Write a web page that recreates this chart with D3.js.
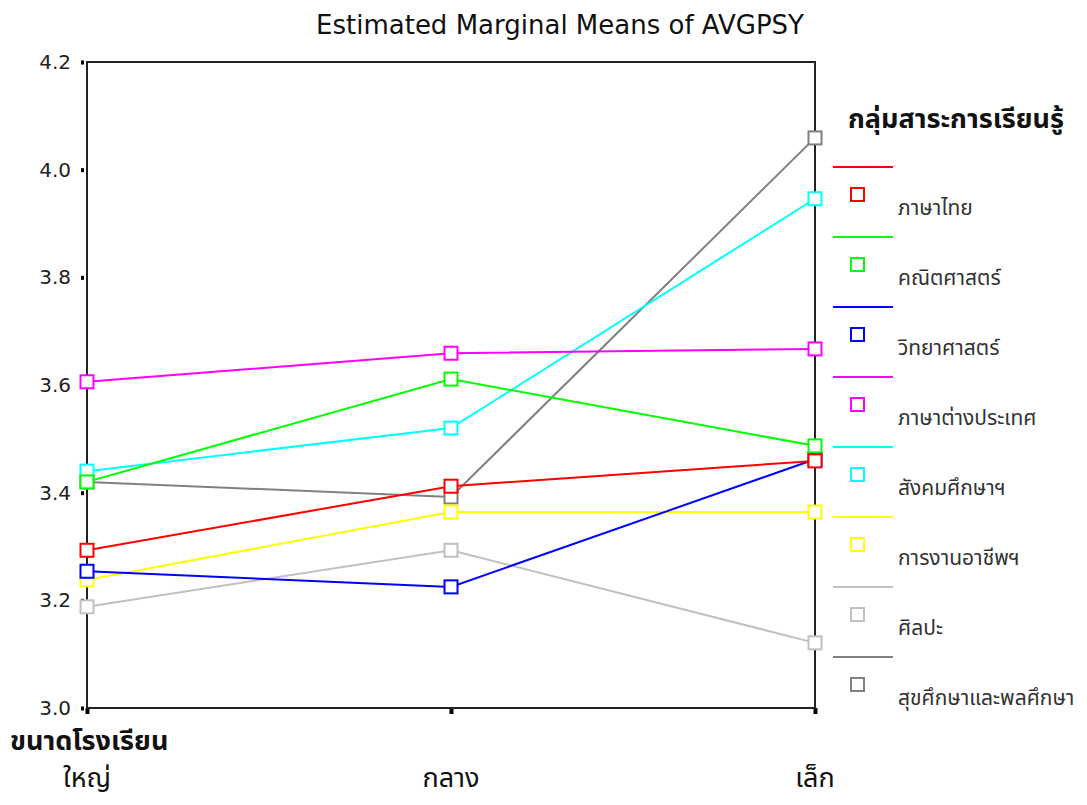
<!DOCTYPE html>
<html>
<head>
<meta charset="utf-8">
<script src="https://cdn.jsdelivr.net/npm/d3@7"></script>
<style>
  body { margin: 0; background: #fff; }
  svg { display: block; }
</style>
</head>
<body>
<script>
var w = 1087;
var h = 805;

// data
var sizes = ["ใหญ่", "กลาง", "เล็ก"];
var groups = ["ภาษาไทย", "คณิตศาสตร์", "วิทยาศาสตร์", "ภาษาต่างประเทศ",
              "สังคมศึกษาฯ", "การงานอาชีพฯ", "ศิลปะ", "สุขศึกษาและพลศึกษา"];
var thai    = [3.293, 3.412, 3.459];
var math    = [3.420, 3.611, 3.487];
var science = [3.254, 3.225, 3.462];
var foreign = [3.606, 3.659, 3.667];
var social  = [3.440, 3.520, 3.946];
var career  = [3.238, 3.364, 3.364];
var art     = [3.188, 3.293, 3.121];
var health  = [3.420, 3.392, 4.059];
var yTicks = [3.0, 3.2, 3.4, 3.6, 3.8, 4.0, 4.2];

var series = [thai, math, science, foreign, social, career, art, health];
var colors = ["#ff0000", "#00ff00", "#0000ff", "#ff00ff", "#00ffff", "#ffff00", "#c0c0c0", "#808080"];

var thaiFont = "'Noto Sans Thai', 'Noto Sans', 'DejaVu Sans', sans-serif";

var pLeft = 87, pRight = 815, pTop = 62, pBottom = 708;

var svg = d3.select("body").append("svg")
  .attr("width", w)
  .attr("height", h);

var x = d3.scalePoint().domain(sizes).range([pLeft, pRight]);
var y = d3.scaleLinear().domain([3.0, 4.2]).range([pBottom, pTop]);

// title
svg.append("text")
  .attr("x", 560)
  .attr("y", 34)
  .attr("text-anchor", "middle")
  .attr("font-family", "'DejaVu Sans', sans-serif")
  .attr("font-size", 26)
  .attr("fill", "#111")
  .text("Estimated Marginal Means of AVGPSY");

// y axis
var yAxis = svg.append("g")
  .attr("transform", "translate(" + (pLeft - 3) + ",0)")
  .call(d3.axisLeft(y).tickValues(yTicks).tickFormat(d3.format(".1f")).tickSize(3).tickPadding(10));
yAxis.select(".domain").remove();
yAxis.selectAll(".tick line").attr("stroke", "#000").attr("stroke-width", 4);
yAxis.selectAll(".tick text")
  .attr("font-family", "'DejaVu Sans', sans-serif")
  .attr("font-size", 20)
  .attr("fill", "#222");

// x axis ticks
var xAxis = svg.append("g")
  .attr("transform", "translate(0," + pBottom + ")")
  .call(d3.axisBottom(x).tickSize(6).tickFormat(""));
xAxis.select(".domain").remove();
xAxis.selectAll(".tick line").attr("stroke", "#000").attr("stroke-width", 4);

// frame
svg.append("rect")
  .attr("x", pLeft)
  .attr("y", pTop)
  .attr("width", pRight - pLeft)
  .attr("height", pBottom - pTop)
  .attr("fill", "none")
  .attr("stroke", "#222")
  .attr("stroke-width", 2);

// category labels
svg.selectAll(".cat")
  .data(sizes)
  .enter()
  .append("text")
  .attr("class", "cat")
  .attr("x", function (d) { return x(d); })
  .attr("y", 787)
  .attr("text-anchor", "middle")
  .attr("font-family", thaiFont)
  .attr("font-size", 27)
  .attr("fill", "#111")
  .text(function (d) { return d; });

svg.append("text")
  .attr("x", 10)
  .attr("y", 750)
  .attr("font-family", thaiFont)
  .attr("font-size", 27)
  .attr("font-weight", "bold")
  .attr("fill", "#111")
  .text("ขนาดโรงเรียน");

// lines, drawn last legend entry first so red ends on top
var line = d3.line()
  .x(function (d, i) { return x(sizes[i]); })
  .y(function (d) { return y(d); });

var order = d3.range(series.length).reverse();

var plot = svg.append("g");
order.forEach(function (k) {
  var g = plot.append("g");
  g.append("path")
    .datum(series[k])
    .attr("d", line)
    .attr("fill", "none")
    .attr("stroke", colors[k])
    .attr("stroke-width", 2);
  g.selectAll("rect")
    .data(series[k])
    .enter()
    .append("rect")
    .attr("x", function (d, i) { return x(sizes[i]) - 6.5; })
    .attr("y", function (d) { return y(d) - 6.5; })
    .attr("width", 13)
    .attr("height", 13)
    .attr("fill", "#fff")
    .attr("stroke", colors[k])
    .attr("stroke-width", 2);
});

// legend
var legend = svg.append("g").attr("transform", "translate(833,0)");
legend.append("text")
  .attr("x", 15)
  .attr("y", 128)
  .attr("font-family", thaiFont)
  .attr("font-size", 27)
  .attr("font-weight", "bold")
  .attr("fill", "#111")
  .text("กลุ่มสาระการเรียนรู้");

var item = legend.selectAll(".item")
  .data(groups)
  .enter()
  .append("g")
  .attr("class", "item")
  .attr("transform", function (d, i) { return "translate(0," + (167 + i * 70) + ")"; });

item.append("line")
  .attr("x1", 0).attr("x2", 60)
  .attr("y1", 0).attr("y2", 0)
  .attr("stroke", function (d, i) { return colors[i]; })
  .attr("stroke-width", 2);

item.append("rect")
  .attr("x", 18).attr("y", 21)
  .attr("width", 13).attr("height", 13)
  .attr("fill", "#fff")
  .attr("stroke", function (d, i) { return colors[i]; })
  .attr("stroke-width", 2);

item.append("text")
  .attr("x", 65)
  .attr("y", 48)
  .attr("font-family", thaiFont)
  .attr("font-size", 21)
  .attr("fill", "#333")
  .text(function (d) { return d; });
</script>
</body>
</html>
